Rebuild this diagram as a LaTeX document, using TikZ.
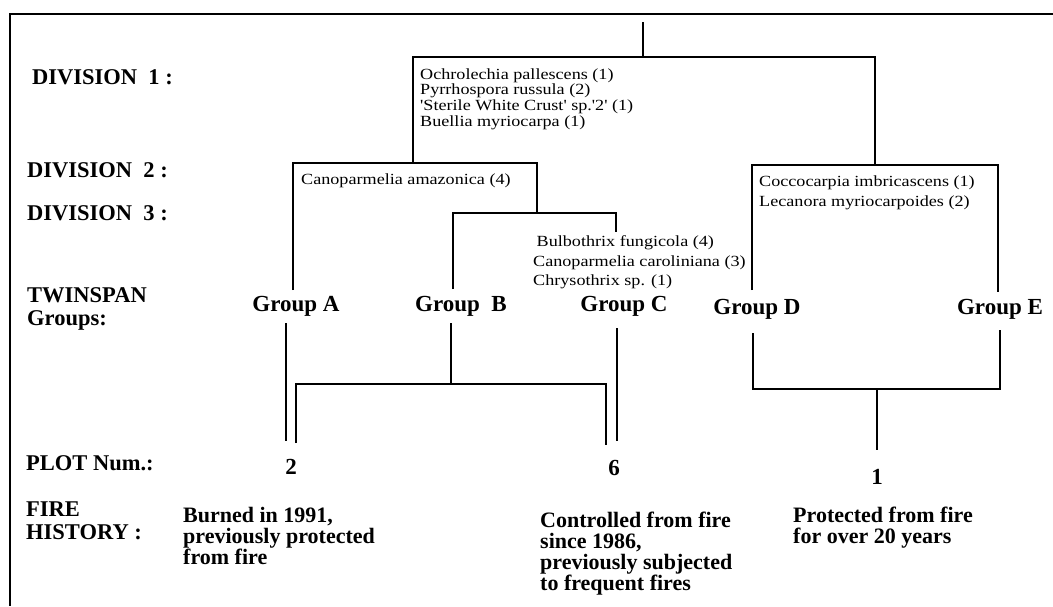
\documentclass[tikz,border=0pt]{standalone}
\usepackage{fontspec}
\usepackage{graphicx}
\setmainfont{Liberation Serif}
\newcommand{\sq}{\textquotesingle}
% species lists are set in a slightly widened roman face
\newcommand{\widelist}[1]{\scalebox{1.17}[1]{\begin{tabular}{@{}l@{}}#1\end{tabular}}}
\begin{document}
\begin{tikzpicture}[x=1pt,y=-1pt,
  line cap=butt, line join=miter,
  rowlabel/.style={font=\fontsize{22.5}{23}\selectfont\bfseries, inner sep=0pt, anchor=west, align=left},
  grouplabel/.style={font=\fontsize{23}{23}\selectfont\bfseries, inner sep=0pt},
  history/.style={font=\fontsize{22}{21}\selectfont\bfseries, inner sep=0pt, anchor=north west, align=left},
  species/.style={font=\fontsize{15.5}{15.7}\selectfont, inner sep=0pt, anchor=north west},
  specieswide/.style={font=\fontsize{15.5}{19.5}\selectfont, inner sep=0pt, anchor=north west},
  split/.style={line width=2.8pt},
  link/.style={line width=1.2pt},
  frameline/.style={line width=1.4pt}]
\useasboundingbox (0,0) rectangle (1053,606);

% frame (open to the right and bottom)
\coordinate (fr1) at (1053,14);
\coordinate (fr2) at (10,14);
\coordinate (fr3) at (10,606);
\draw[frameline] (fr1) -- (fr2) -- (fr3);

% row labels
\node[rowlabel] (div1) at (32,77) {DIVISION~~1 :};
\node[rowlabel] (div2) at (27,170) {DIVISION~~2 :};
\node[rowlabel] (div3) at (27,213) {DIVISION~~3 :};
\node[rowlabel] (twin) at (27,309) {TWINSPAN\\Groups:};
\node[rowlabel] (plot) at (26,463) {PLOT Num.:};
\node[rowlabel] (fire) at (26,521) {FIRE\\HISTORY :};

% TWINSPAN groups
\node[grouplabel] (gA) at (296,306) {Group A};
\node[grouplabel] (gB) at (461,306) {Group~~B};
\node[grouplabel] (gC) at (624,306) {Group C};
\node[grouplabel] (gD) at (757,309) {Group D};
\node[grouplabel] (gE) at (1000,309) {Group E};

% plot numbers
\node[grouplabel] (p2) at (291,467) {2};
\node[grouplabel] (p6) at (614,468) {6};
\node[grouplabel] (p1) at (877,477) {1};

% fire history
\node[history] (h2) at (183,507) {Burned in 1991,\\previously protected\\from fire};
\node[history] (h6) at (540,512) {Controlled from fire\\since 1986,\\previously subjected\\to frequent fires};
\node[history] (h1) at (793,507) {Protected from fire\\for over 20 years};

% indicator species
\node[species] (sp1) at (420,68) {\widelist{Ochrolechia pallescens (1)\\Pyrrhospora russula (2)\\\sq Sterile White Crust\sq{} sp.\sq 2\sq{} (1)\\Buellia myriocarpa (1)}};
\node[species] (sp2) at (301,173) {\widelist{Canoparmelia amazonica (4)}};
\node[specieswide] (sp3) at (759,173) {\widelist{Coccocarpia imbricascens (1)\\Lecanora myriocarpoides (2)}};
\node[specieswide] (sp4) at (533,233) {\widelist{\hspace{3pt}Bulbothrix fungicola (4)\\Canoparmelia caroliniana (3)\\Chrysothrix sp. (1)}};

% division tree junctions
\coordinate (rootTop) at (643,22);
\coordinate (d1) at (643,57);
\coordinate (d1L) at (413,163);
\coordinate (d1R) at (875,165);
\coordinate (d2A) at (293,290);
\coordinate (d2R) at (537,213);
\coordinate (d3B) at (453,289);
\coordinate (d3C) at (616,232);
\coordinate (dD) at (752,290);
\coordinate (dE) at (998,292);

\draw[split] (rootTop) -- (d1);
\draw[split] (d1L) |- (d1R |- d1) -- (d1R);
\draw[split] (d2A) |- (d2R |- d1L) -- (d2R);
\draw[split] (d3B) |- (d3C |- d2R) -- (d3C);
\draw[split] (dD) |- (dE |- d1R) -- (dE);

% groups to plots
\coordinate (aTop) at (286,323);
\coordinate (aBot) at (286,441);
\coordinate (b2Bot) at (296,443);
\coordinate (bJoin) at (606,384);
\coordinate (b6Bot) at (606,445);
\coordinate (bTop) at (451,323);
\coordinate (cTop) at (617,328);
\coordinate (cBot) at (617,441);
\coordinate (dTop) at (753,333);
\coordinate (eTop) at (1000,330);
\coordinate (deJoin) at (877,389);
\coordinate (deBot) at (877,450);

\draw[link] (aTop) -- (aBot);
\draw[link] (b2Bot) |- (bJoin) -- (b6Bot);
\draw[link] (bTop) -- (bTop |- bJoin);
\draw[link] (cTop) -- (cBot);
\draw[link] (dTop) |- (eTop |- deJoin) -- (eTop);
\draw[link] (deJoin) -- (deBot);
\end{tikzpicture}
\end{document}
